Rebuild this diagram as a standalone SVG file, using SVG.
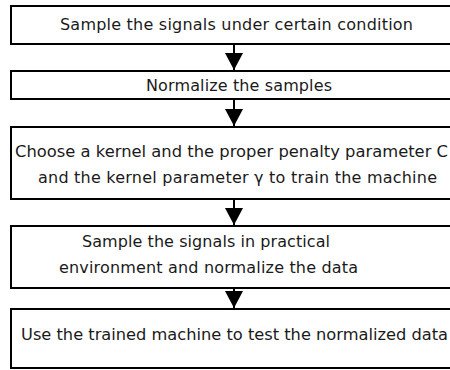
<svg xmlns="http://www.w3.org/2000/svg" width="450" height="370" viewBox="0 0 450 370">
<style>
.box{fill:#fff;stroke:#000;stroke-width:2}
.t{font-family:"DejaVu Sans",Verdana,sans-serif;font-size:16px;fill:#1a1a1a}
.c{stroke:#000;stroke-width:2;fill:none}
</style>
<defs>
<marker id="ah" markerUnits="userSpaceOnUse" markerWidth="18" markerHeight="19" refX="17" refY="9" orient="auto">
<path d="M0,0 L17,9 L0,18 Z" fill="#000"/>
</marker>
</defs>
<rect width="450" height="370" fill="#fff"/>
<g id="connectors">
<line class="c" x1="234" y1="44" x2="234" y2="70" marker-end="url(#ah)"/>
<line class="c" x1="234" y1="99" x2="234" y2="126" marker-end="url(#ah)"/>
<line class="c" x1="234" y1="199" x2="234" y2="225" marker-end="url(#ah)"/>
<line class="c" x1="234" y1="288" x2="234" y2="308" marker-end="url(#ah)"/>
</g>
<g id="n1"><rect class="box" x="11" y="6" width="450" height="38"/>
<text class="t" x="60" y="30" textLength="353">Sample the signals under certain condition</text></g>
<g id="n2"><rect class="box" x="11" y="71" width="450" height="28"/>
<text class="t" x="146" y="91" textLength="186">Normalize the samples</text></g>
<g id="n3"><rect class="box" x="11" y="127" width="450" height="72"/>
<text class="t" x="15" y="157" textLength="433" lengthAdjust="spacingAndGlyphs">Choose a kernel and the proper penalty parameter C</text>
<text class="t" x="38" y="183" textLength="399">and the kernel parameter γ to train the machine</text></g>
<g id="n4"><rect class="box" x="11" y="226" width="450" height="62"/>
<text class="t" x="82" y="247" textLength="248">Sample the signals in practical</text>
<text class="t" x="59" y="273" textLength="299">environment and normalize the data</text></g>
<g id="n5"><rect class="box" x="11" y="309" width="450" height="59"/>
<text class="t" x="21" y="340" textLength="427" lengthAdjust="spacingAndGlyphs">Use the trained machine to test the normalized data</text></g>
</svg>
